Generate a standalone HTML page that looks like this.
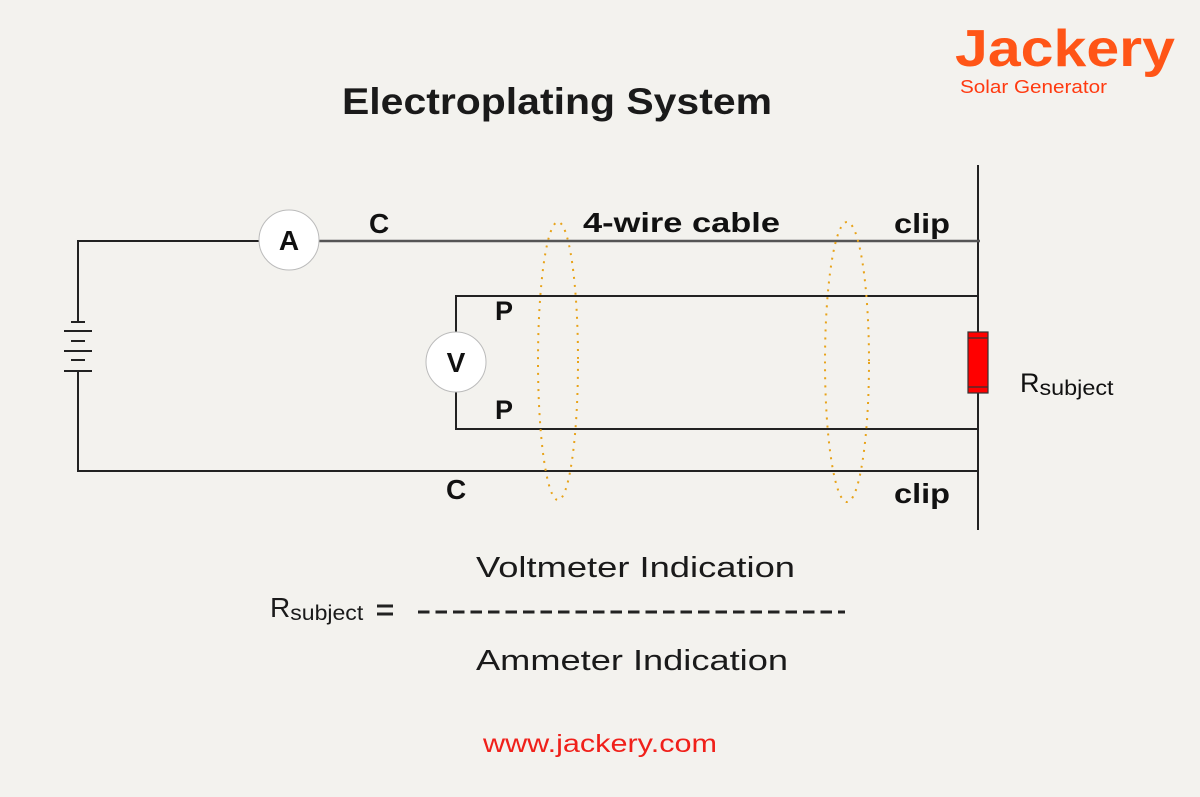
<!DOCTYPE html>
<html><head><meta charset="utf-8"><style>
html,body{margin:0;padding:0;background:#f3f2ee;}
svg{display:block;font-family:"Liberation Sans",sans-serif;}
</style></head><body>
<svg width="1200" height="797" viewBox="0 0 1200 797" xmlns="http://www.w3.org/2000/svg">
<rect width="1200" height="797" fill="#f3f2ee"/>
<!-- logo -->
<text x="955" y="66" font-size="52" font-weight="bold" fill="#ff5517" textLength="220" lengthAdjust="spacingAndGlyphs">Jackery</text>
<text x="960" y="93" font-size="18" fill="#ff3a10" textLength="147" lengthAdjust="spacingAndGlyphs">Solar Generator</text>
<!-- title -->
<text x="342" y="114" font-size="37" font-weight="bold" fill="#1a1a1a" textLength="430" lengthAdjust="spacingAndGlyphs">Electroplating System</text>
<g stroke="#222" stroke-width="2" fill="none">
<line x1="978" y1="165" x2="978" y2="530"/>
<polyline points="78,322 78,241 259,241"/>
<line x1="319" y1="241" x2="980" y2="241" stroke="#555" stroke-width="2.5"/>
<polyline points="978,296 456,296 456,332"/>
<polyline points="456,392 456,429 978,429"/>
<polyline points="78,371 78,471 978,471"/>
<line x1="71" y1="322" x2="85" y2="322"/>
<line x1="64" y1="331" x2="92" y2="331"/>
<line x1="71" y1="341" x2="85" y2="341"/>
<line x1="64" y1="351" x2="92" y2="351"/>
<line x1="71" y1="360" x2="85" y2="360"/>
<line x1="64" y1="371" x2="92" y2="371"/>
</g>
<circle cx="289" cy="240" r="30" fill="#fff" stroke="#bbb" stroke-width="1"/>
<circle cx="456" cy="362" r="30" fill="#fff" stroke="#bbb" stroke-width="1"/>
<text x="289" y="250" font-size="28" font-weight="bold" text-anchor="middle" fill="#111">A</text>
<text x="456" y="372" font-size="28" font-weight="bold" text-anchor="middle" fill="#111">V</text>
<!-- resistor -->
<rect x="968" y="332" width="20" height="61" fill="#ff0000" stroke="#333" stroke-width="1.2"/>
<line x1="968" y1="338" x2="988" y2="338" stroke="#333" stroke-width="1.2"/>
<line x1="968" y1="387" x2="988" y2="387" stroke="#333" stroke-width="1.2"/>
<!-- ellipses -->
<ellipse cx="558" cy="361" rx="20" ry="139" fill="none" stroke="#e8a319" stroke-width="2" stroke-dasharray="2 6"/>
<ellipse cx="847" cy="362" rx="22" ry="140" fill="none" stroke="#e8a319" stroke-width="2" stroke-dasharray="2 6"/>
<!-- labels -->
<g font-size="28" font-weight="bold" fill="#111">
<text x="583" y="232" textLength="197" lengthAdjust="spacingAndGlyphs">4-wire cable</text>
<text x="894" y="233" textLength="56" lengthAdjust="spacingAndGlyphs">clip</text>
<text x="894" y="503" textLength="56" lengthAdjust="spacingAndGlyphs">clip</text>
<text x="369" y="233">C</text>
<text x="446" y="499">C</text>
<text x="495" y="320" font-size="27">P</text>
<text x="495" y="419" font-size="27">P</text>
</g>
<text x="1020" y="392" font-size="27" fill="#111">R<tspan font-size="21" dy="3" textLength="74" lengthAdjust="spacingAndGlyphs">subject</tspan></text>
<!-- formula -->
<g font-size="29" fill="#1a1a1a">
<text x="476" y="577" textLength="319" lengthAdjust="spacingAndGlyphs">Voltmeter Indication</text>
<text x="476" y="670" textLength="312" lengthAdjust="spacingAndGlyphs">Ammeter Indication</text>
<text x="270" y="617" font-size="28">R<tspan font-size="21" dy="3" textLength="73" lengthAdjust="spacingAndGlyphs">subject</tspan></text>
</g>
<g stroke="#222" stroke-width="3">
<line x1="377" y1="606" x2="393" y2="606"/>
<line x1="377" y1="614" x2="393" y2="614"/>
<line x1="418" y1="612" x2="845" y2="612" stroke-dasharray="11.5 6"/>
</g>
<text x="483" y="752" font-size="25" fill="#f0201a" textLength="234" lengthAdjust="spacingAndGlyphs">www.jackery.com</text>
</svg>
</body></html>
